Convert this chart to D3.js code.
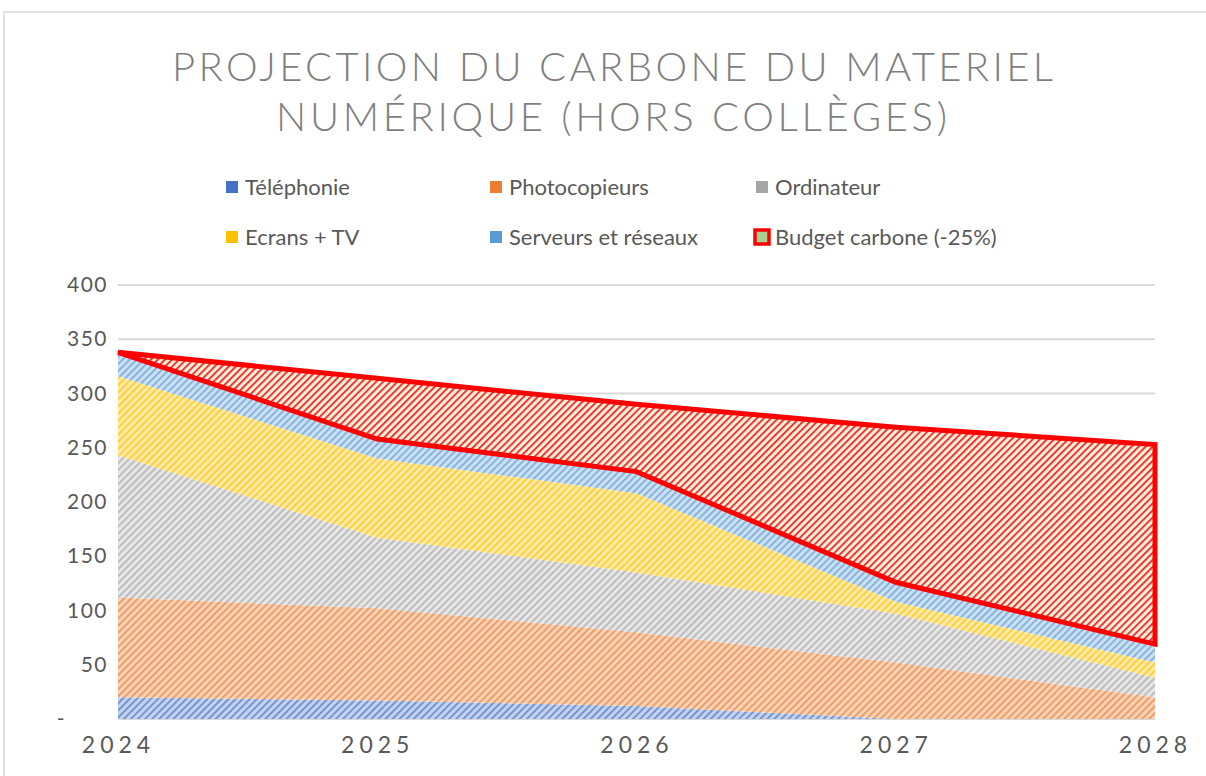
<!DOCTYPE html>
<html>
<head>
<meta charset="utf-8">
<script src="https://cdn.jsdelivr.net/npm/d3@7"></script>
<style>
  body { margin: 0; background: #fff; }
  svg { display: block; }
</style>
</head>
<body>
<svg id="chart" width="1206" height="776"></svg>
<script>
// Data
var years = [2024, 2025, 2026, 2027, 2028];
var telephonie = [20, 17, 12, 0, 0];
var photocopieurs = [92, 85, 68, 52, 20];
var ordinateur = [131, 65, 55, 45, 18];
var ecrans = [73, 73, 73, 11, 14];
var serveurs = [22, 18, 20, 18, 17];
var budgetCarbone = [0, 56, 62, 143, 184]; // stacked on top of the total
var yTicks = [0, 50, 100, 150, 200, 250, 300, 350, 400];

var seriesNames = ["Téléphonie", "Photocopieurs", "Ordinateur", "Ecrans + TV", "Serveurs et réseaux", "Budget carbone (-25%)"];
var seriesKeys = ["tel", "photo", "ordi", "ecrans", "serveurs", "budget"];
var colors = ["#4472C4", "#ED7D31", "#A5A5A5", "#FFC000", "#5B9BD5", "#FF0000"];
var tints = ["#c5d3ee", "#f9d3b9", "#e6e6e6", "#ffeaa8", "#cde0f2", "#e6f2dc"];

var table = years.map(function (y, i) {
    return {
        year: y,
        tel: telephonie[i],
        photo: photocopieurs[i],
        ordi: ordinateur[i],
        ecrans: ecrans[i],
        serveurs: serveurs[i],
        budget: budgetCarbone[i]
    };
});

var svg = d3.select("#chart");
var plot = { l: 118, r: 1155, t: 285, b: 719 };
var font = "Lato, 'Open Sans', sans-serif";

var x = d3.scaleLinear().domain([2024, 2028]).range([plot.l, plot.r]);
var y = d3.scaleLinear().domain([0, 400]).range([plot.b, plot.t]);

// outer frame
svg.append("rect")
    .attr("x", 4).attr("y", 12)
    .attr("width", 1240).attr("height", 800)
    .attr("fill", "#fff")
    .attr("stroke", "#d9d9d9")
    .attr("stroke-width", 1.5);

// hatch patterns (upward diagonal)
var defs = svg.append("defs");
seriesKeys.forEach(function (k, i) {
    var p = defs.append("pattern")
        .attr("id", "hatch-" + k)
        .attr("patternUnits", "userSpaceOnUse")
        .attr("width", 5).attr("height", 5)
        .attr("patternTransform", "rotate(45)");
    p.append("rect").attr("width", 5).attr("height", 5).attr("fill", tints[i]);
    p.append("rect").attr("x", 0).attr("y", 0).attr("width", 1.8).attr("height", 5)
        .attr("fill", colors[i]).attr("opacity", k === "budget" ? 0.85 : 0.7);
});

// title
var title = svg.append("g")
    .style("font-family", font)
    .style("font-weight", 300)
    .style("fill", "#7f7f7f")
    .style("font-size", "40px");
title.append("text")
    .attr("x", 172).attr("y", 81)
    .attr("textLength", 881).attr("lengthAdjust", "spacing")
    .text("PROJECTION DU CARBONE DU MATERIEL");
title.append("text")
    .attr("x", 276).attr("y", 131)
    .attr("textLength", 671).attr("lengthAdjust", "spacing")
    .text("NUMÉRIQUE  (HORS COLLÈGES)");

// gridlines
svg.append("g")
    .selectAll("line")
    .data(yTicks)
    .join("line")
    .attr("x1", plot.l).attr("x2", plot.r)
    .attr("y1", function (d) { return y(d); })
    .attr("y2", function (d) { return y(d); })
    .attr("stroke", "#d9d9d9")
    .attr("stroke-width", 2);

// stacked areas
var stack = d3.stack().keys(seriesKeys);
var stacked = stack(table);

var area = d3.area()
    .x(function (d) { return x(d.data.year); })
    .y0(function (d) { return y(d[0]); })
    .y1(function (d) { return y(d[1]); });

svg.append("g")
    .selectAll("path")
    .data(stacked)
    .join("path")
    .attr("d", area)
    .attr("fill", function (d) { return "url(#hatch-" + d.key + ")"; })
    .attr("stroke", function (d) { return d.key === "budget" ? "#FF0000" : "none"; })
    .attr("stroke-width", function (d) { return d.key === "budget" ? 5 : 0; })
    .attr("stroke-linejoin", "miter");

// y axis
var yAxis = svg.append("g")
    .attr("transform", "translate(" + plot.l + ",0)")
    .call(d3.axisLeft(y).tickValues(yTicks).tickSize(0).tickPadding(10)
        .tickFormat(function (d) { return d === 0 ? "-" : d; }));
yAxis.select(".domain").remove();
yAxis.selectAll("text")
    .style("font-family", font)
    .style("font-size", "21px")
    .style("letter-spacing", "1.5px")
    .style("fill", "#595959");
yAxis.selectAll(".tick").filter(function (d) { return d === 0; })
    .select("text").attr("x", -52);

// x axis
var xAxis = svg.append("g")
    .attr("transform", "translate(0," + plot.b + ")")
    .call(d3.axisBottom(x).tickValues(years).tickSize(0).tickPadding(18)
        .tickFormat(d3.format("d")));
xAxis.select(".domain").remove();
xAxis.selectAll("text")
    .style("font-family", font)
    .style("font-size", "23px")
    .style("letter-spacing", "5px")
    .style("fill", "#595959");

// legend
var legendPos = [
    { x: 226, y: 187 }, { x: 490, y: 187 }, { x: 756, y: 187 },
    { x: 226, y: 237 }, { x: 490, y: 237 }, { x: 756, y: 237 }
];
var legend = svg.append("g")
    .selectAll("g")
    .data(seriesKeys)
    .join("g")
    .attr("transform", function (d, i) { return "translate(" + legendPos[i].x + "," + legendPos[i].y + ")"; });

legend.append("rect")
    .attr("x", function (d) { return d === "budget" ? -1 : 0; })
    .attr("y", function (d) { return d === "budget" ? -7 : -6; })
    .attr("width", function (d) { return d === "budget" ? 14 : 12; })
    .attr("height", function (d) { return d === "budget" ? 14 : 12; })
    .attr("fill", function (d, i) { return d === "budget" ? "#a9d18e" : colors[i]; })
    .attr("stroke", function (d) { return d === "budget" ? "#FF0000" : "none"; })
    .attr("stroke-width", 3.5);

legend.append("text")
    .attr("x", 19)
    .attr("y", 8)
    .style("font-family", font)
    .style("font-size", "22px")
    .style("fill", "#595959")
    .text(function (d, i) { return seriesNames[i]; });
</script>
</body>
</html>
